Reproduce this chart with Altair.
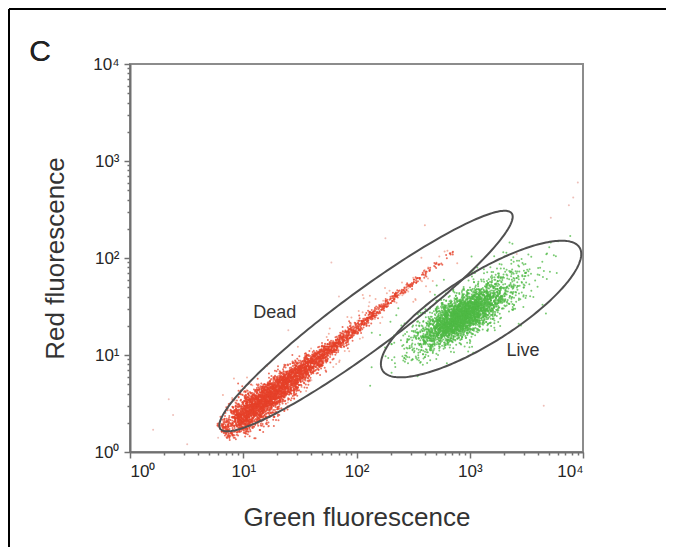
import numpy as np
import pandas as pd
import altair as alt

# ---------------- data (log10 units) ----------------
# Dead population: spine of the red streak (log10 green, log10 red), spread, event count
dead_lx = [0.88, 1.00, 1.12, 1.24, 1.36, 1.48, 1.60, 1.72, 1.84, 1.96, 2.08, 2.20, 2.32, 2.44, 2.56, 2.68, 2.80]
dead_ly = [0.25, 0.36, 0.47, 0.58, 0.69, 0.80, 0.91, 1.02, 1.13, 1.24, 1.36, 1.47, 1.58, 1.69, 1.80, 1.91, 2.02]
dead_sd = [0.055, 0.068, 0.070, 0.065, 0.058, 0.050, 0.043, 0.036, 0.031, 0.026, 0.022, 0.019,
           0.017, 0.016, 0.015, 0.016, 0.020]
dead_n = [170, 480, 640, 600, 500, 400, 310, 230, 170, 125, 95, 70, 55, 40, 28, 18, 8]
# faint halo around the streak
halo_lx = [1.2, 1.7, 2.2, 2.6]
halo_ly = [0.56, 1.02, 1.48, 1.85]
halo_sd = [0.12, 0.10, 0.09, 0.09]
halo_n = [60, 45, 30, 20]

# Live population: cores of the green cloud
live_lx = [2.96, 2.90, 3.05]
live_ly = [1.43, 1.37, 1.50]
live_sd_major = [0.27, 0.16, 0.40]
live_sd_minor = [0.088, 0.065, 0.15]
live_n = [1900, 1100, 280]
live_angle = 33  # degrees on screen

# Stray events
stray_x = [1.6, 2.4, 3.2, 6.0, 9000, 8200, 7500, 5200, 40, 60, 300, 4500, 2.2, 180, 2600, 25, 70, 130]
stray_y = [1.7, 2.4, 1.2, 1.4, 600, 420, 350, 260, 5.5, 90, 6, 3, 3.5, 160, 110, 18, 40, 35]

# Gates: centre (log10), semi axes (in x-decades), screen angle (deg)
gate_name = ["Dead", "Live"]
gate_cx = [2.084, 3.10]
gate_cy = [1.35, 1.474]
gate_a = [1.60, 1.025]
gate_b = [0.256, 0.309]
gate_angle = [36.5, 32]

label_text = ["Dead", "Live"]
label_x = [19, 2950]
label_y = [27, 11.0]

tick_major = [1, 10, 100, 1000, 10000]
tick_labels = ["10⁰", "10¹", "10²", "10³", "10⁴"]

W, H = 453, 388
RATIO = (W / 4) / (H / 4)  # x-decade px / y-decade px

# ---------------- build tables ----------------
rng = np.random.default_rng(11)
rows = []
seg_ang = np.arctan(0.92 / RATIO)
perp = np.array([-np.sin(seg_ang), np.cos(seg_ang)])


def streak(lxs, lys, sds, ns, pop, spread):
    for lx, ly, sd, n in zip(lxs, lys, sds, ns):
        t = rng.uniform(-spread, spread, n)
        ox = lx + t
        oy_screen = ly / RATIO + t * 0.92 / RATIO
        d = rng.normal(0, sd, n)
        px = ox + d * perp[0]
        py = (oy_screen + d * perp[1]) * RATIO
        for a, b in zip(px, py):
            rows.append((10 ** a, 10 ** b, pop))


streak(halo_lx, halo_ly, halo_sd, halo_n, "Halo", 0.25)
streak(dead_lx, dead_ly, dead_sd, dead_n, "Dead", 0.06)
for cx, cy, sa, sb, n in zip(live_lx, live_ly, live_sd_major, live_sd_minor, live_n):
    u = rng.normal(0, sa, n)
    v = rng.normal(0, sb, n)
    ph = np.radians(live_angle)
    dx = u * np.cos(ph) - v * np.sin(ph)
    dy = (u * np.sin(ph) + v * np.cos(ph)) * RATIO
    for a, b in zip(cx + dx, cy + dy):
        rows.append((10 ** a, 10 ** b, "Live"))
for a, b in zip(stray_x, stray_y):
    rows.append((a, b, "Stray"))
events = pd.DataFrame(rows, columns=["green", "red", "pop"])
events = events[(events.green > 1) & (events.green < 10000) & (events.red > 1) & (events.red < 10000)]

grows = []
for name, cx, cy, a, b, ang in zip(gate_name, gate_cx, gate_cy, gate_a, gate_b, gate_angle):
    th = np.linspace(0, 2 * np.pi, 241)
    ph = np.radians(ang)
    u, v = a * np.cos(th), b * np.sin(th)
    dx = u * np.cos(ph) - v * np.sin(ph)
    dy = (u * np.sin(ph) + v * np.cos(ph)) * RATIO
    for i, (p, q) in enumerate(zip(cx + dx, cy + dy)):
        grows.append((name, i, 10 ** p, 10 ** q))
gates = pd.DataFrame(grows, columns=["gate", "order", "green", "red"])

labels = pd.DataFrame({"text": label_text, "green": label_x, "red": label_y})

# ---------------- axes ----------------
minor = [m * 10 ** k for k in range(4) for m in range(1, 10)] + [10000]
lab_expr = " : ".join(
    f"datum.value == {v} ? '{t}'" for v, t in zip(tick_major, tick_labels)
) + " : ''"
major_test = "indexof([1,10,100,1000,10000], datum.value) >= 0"

FONT = "Liberation Sans"


def make_axis(title, **kw):
    return alt.Axis(
        title=title,
        values=minor,
        labelExpr=lab_expr,
        grid=False,
        domainColor="#707070",
        domainWidth=2,
        tickColor="#707070",
        tickWidth=1.5,
        tickSize={"condition": {"test": major_test, "value": 6}, "value": 3},
        labelFont=FONT,
        labelFontSize=17,
        labelColor="#262626",
        titleFont=FONT,
        titleFontSize=26,
        titleFontWeight="normal",
        titleColor="#333333",
        **kw,
    )


xs = alt.Scale(type="log", domain=[1, 10000], nice=False)
ys = alt.Scale(type="log", domain=[1, 10000], nice=False)

color = alt.Color(
    "pop:N",
    scale=alt.Scale(domain=["Dead", "Halo", "Live", "Stray"],
                    range=["#e6412a", "#f09a85", "#4fba45", "#e8aaa2"]),
    legend=None,
)

pts = alt.Chart(events).mark_circle(size=4, opacity=0.75, strokeWidth=0).encode(
    x=alt.X("green:Q", scale=xs, axis=make_axis("Green fluorescence", labelPadding=5, titlePadding=25)),
    y=alt.Y("red:Q", scale=ys, axis=make_axis("Red fluorescence", labelPadding=5, titlePadding=24)),
    color=color,
)

gate_lines = alt.Chart(gates).mark_line(color="#505050", strokeWidth=2).encode(
    x=alt.X("green:Q", scale=xs),
    y=alt.Y("red:Q", scale=ys),
    detail="gate:N",
    order="order:Q",
)

gate_text = alt.Chart(labels).mark_text(font=FONT, fontSize=18, color="#333333").encode(
    x=alt.X("green:Q", scale=xs),
    y=alt.Y("red:Q", scale=ys),
    text="text:N",
)

panel = alt.Chart(labels).mark_text(
    font=FONT, fontSize=30, color="#222222", align="center", baseline="middle"
).encode(x=alt.value(-90), y=alt.value(-12), text=alt.value("C"))

frame_top = alt.Chart(labels).mark_rule(color="#000000", strokeWidth=2).encode(
    x=alt.value(-121), x2=alt.value(560), y=alt.value(-55)
)
frame_left = alt.Chart(labels).mark_rule(color="#000000", strokeWidth=2).encode(
    x=alt.value(-121), y=alt.value(-55), y2=alt.value(490)
)

chart = (
    alt.layer(pts, gate_lines, gate_text, panel, frame_top, frame_left)
    .properties(
        width=W,
        height=H,
        autosize=alt.AutoSizeParams(type="none"),
        padding={"left": 122, "top": 56, "right": 83, "bottom": 95},
        background="#ffffff",
    )
    .configure_view(stroke="#8c8c8c", strokeWidth=2)
)

chart.save("out.html", embed_options={"renderer": "svg", "actions": False})
